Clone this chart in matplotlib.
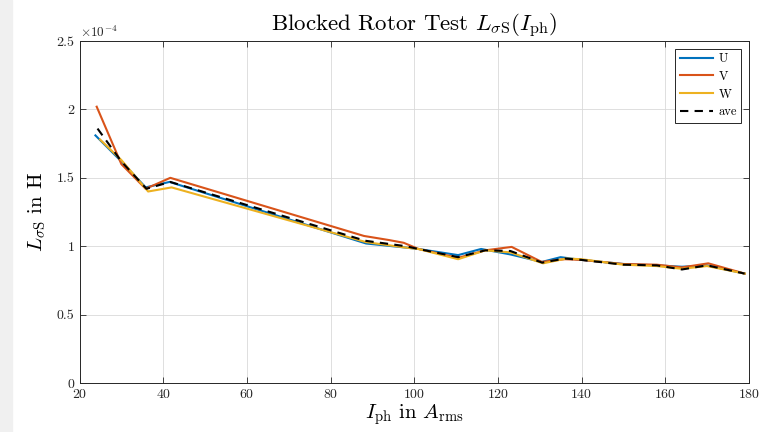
import numpy as np
import matplotlib
matplotlib.use("Agg")
import matplotlib.pyplot as plt
from matplotlib.ticker import FuncFormatter, MultipleLocator
from matplotlib.patches import Rectangle

plt.rcParams['font.family'] = ['cmr10', 'DejaVu Serif']
plt.rcParams['mathtext.fontset'] = 'cm'
plt.rcParams['axes.formatter.use_mathtext'] = True

# inductance values in units of 1e-4 H
scale = 1e-4

u_x = [23.8, 30, 35.8, 41.5, 88.5, 98, 101, 110.5, 116, 123, 130.5, 135, 140, 150, 158, 164, 170, 179]
u_y = [1.81, 1.62, 1.43, 1.47, 1.02, 0.99, 0.98, 0.935, 0.98, 0.94, 0.885, 0.92, 0.90, 0.87, 0.86, 0.85, 0.86, 0.80]

v_x = [24.1, 30, 35.8, 41.7, 88, 94, 97.5, 101, 110.5, 117, 123.3, 130.5, 136, 140, 150, 158, 164, 170.3, 179]
v_y = [2.02, 1.60, 1.42, 1.50, 1.075, 1.045, 1.025, 0.98, 0.915, 0.97, 0.995, 0.885, 0.905, 0.90, 0.87, 0.865, 0.845, 0.875, 0.80]

w_x = [24.9, 30, 36.4, 42, 88.5, 98, 101, 110.5, 117, 123, 130.8, 136.4, 140, 150, 158, 164, 170, 179]
w_y = [1.78, 1.63, 1.40, 1.43, 1.03, 0.99, 0.98, 0.905, 0.97, 0.955, 0.875, 0.91, 0.905, 0.865, 0.855, 0.835, 0.855, 0.80]

ave_x = [24.3, 30, 36, 41.7, 88.3, 98, 101, 110.5, 117, 123, 130.6, 136, 140, 150, 158, 164, 170, 179]
ave_y = [1.86, 1.62, 1.42, 1.47, 1.04, 1.0, 0.98, 0.92, 0.97, 0.965, 0.88, 0.91, 0.90, 0.865, 0.86, 0.83, 0.86, 0.80]

fig = plt.figure(figsize=(7.76, 4.32), dpi=100)
fig.patches.append(Rectangle((0, 0), 12 / 776, 1, transform=fig.transFigure,
                             color='#f0f0f0', zorder=-1))
ax = fig.add_axes([0.1025, 0.1134, 0.8625, 0.7916])

ax.plot(u_x, np.array(u_y) * scale, color='#0072BD', lw=1.5, label='U')
ax.plot(v_x, np.array(v_y) * scale, color='#D95319', lw=1.5, label='V')
ax.plot(w_x, np.array(w_y) * scale, color='#EDB120', lw=1.5, label='W')
ax.plot(ave_x, np.array(ave_y) * scale, color='black', lw=1.5, ls=(0, (4, 3)), label='ave')

ax.set_xlim(20, 180)
ax.set_ylim(0, 2.5e-4)
ax.xaxis.set_major_locator(MultipleLocator(20))
ax.yaxis.set_major_locator(MultipleLocator(0.5e-4))
ax.yaxis.set_major_formatter(FuncFormatter(lambda v, p: '%g' % round(v / scale, 3)))
ax.text(0.0, 1.012, r'$\times10^{-4}$', transform=ax.transAxes, fontsize=9.5, color='#262626')

ax.grid(True, color='#d9d9d9', lw=0.6)
ax.set_axisbelow(True)
for s in ax.spines.values():
    s.set_color('#262626')
    s.set_linewidth(0.7)
ax.tick_params(direction='in', length=4, width=0.6, top=True, right=True,
               labelsize=10, colors='#262626')

ax.set_title(r'Blocked Rotor Test $L_{\sigma\mathrm{S}}(I_{\mathrm{ph}})$', fontsize=16.5, pad=7)
ax.set_xlabel(r'$I_{\mathrm{ph}}$ in $A_{\mathrm{rms}}$', fontsize=15, labelpad=1)
ax.set_ylabel(r'$L_{\sigma\mathrm{S}}$ in H', fontsize=15, labelpad=6)

leg = ax.legend(loc='upper right', fontsize=9, handlelength=2.7, fancybox=False,
                edgecolor='#262626', framealpha=1, borderpad=0.35, labelspacing=0.45,
                handletextpad=0.4, borderaxespad=0.6)
leg.get_frame().set_linewidth(0.7)

fig.savefig('out.png', dpi=100)
